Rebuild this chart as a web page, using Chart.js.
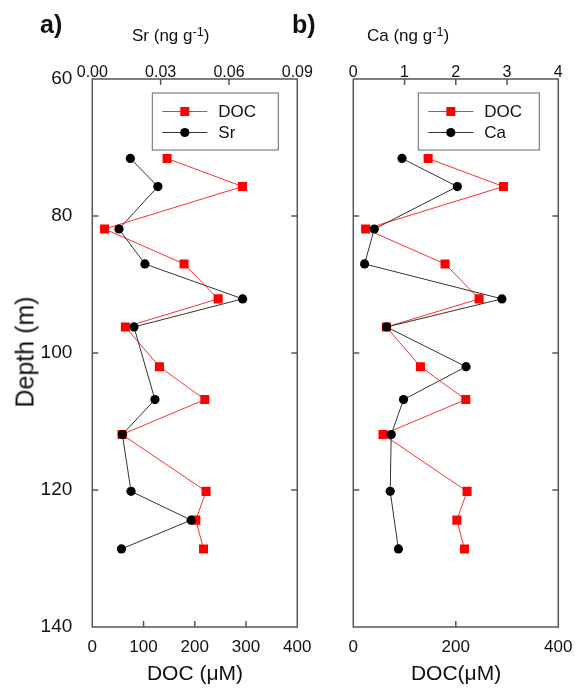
<!DOCTYPE html>
<html>
<head>
<meta charset="utf-8">
<script src="https://cdn.jsdelivr.net/npm/chart.js@4"></script>
<style>
  body { margin: 0; background: #fff; font-family: "Liberation Sans", Arial, sans-serif; color: #111; }
  #wrap { position: relative; width: 577px; height: 689px; overflow: hidden; }
  canvas { position: absolute; top: 0; }
  .lbl { position: absolute; white-space: nowrap; line-height: 1; }
  .lbl sup { font-size: 0.75em; position: relative; top: -0.1em; vertical-align: top; }
</style>
</head>
<body>
<div id="wrap">
  <canvas id="cA" width="320" height="689" style="left:0"></canvas>
  <canvas id="cB" width="257" height="689" style="left:320px"></canvas>
  <div class="lbl" style="left:40px;top:12px;font-size:25px;font-weight:bold">a)</div>
  <div class="lbl" style="left:292px;top:12px;font-size:25px;font-weight:bold">b)</div>
  <div class="lbl" style="left:132px;top:27px;font-size:17px">Sr (ng g<sup>-1</sup>)</div>
  <div class="lbl" style="left:367px;top:27px;font-size:17px">Ca (ng g<sup>-1</sup>)</div>
  <div class="lbl" style="left:25px;top:352px;font-size:25px;transform:translate(-50%,-50%) rotate(-90deg)">Depth (m)</div>
  <div class="lbl" style="left:195px;top:662px;font-size:21px;transform:translateX(-50%)">DOC (μM)</div>
  <div class="lbl" style="left:456px;top:662px;font-size:21px;transform:translateX(-50%)">DOC(μM)</div>
</div>
<script>
// depth (m) of each sample, shared by both panels
const depths = [71.6, 75.7, 81.9, 87, 92.1, 96.2, 102, 106.8, 111.9, 120.2, 124.4, 128.6];
const doc    = [146, 293, 24, 179, 245.5, 64.6, 131, 219.5, 58, 222, 202, 217];
const sr     = [0.0167, 0.0288, 0.0117, 0.0231, 0.066, 0.0183, null, 0.0275, 0.0132, 0.017, 0.0434, 0.0128];
const ca     = [0.95, 2.03, 0.41, 0.22, 2.9, 0.65, 2.2, 0.98, 0.74, 0.72, null, 0.88];

const docTicksA = 100, docTicksB = 200;
const srRange = [0, 0.09], caRange = [0, 4];

const pts = vals => depths.map((d, i) => ({ x: vals[i], y: d }));

const frameTicks = {
  id: 'frameTicks',
  afterDraw(chart) {
    const { ctx, chartArea: a, scales } = chart;
    const len = 6;
    ctx.save();
    ctx.strokeStyle = '#555';
    ctx.lineWidth = 1.5;
    ctx.strokeRect(a.left, a.top, a.right - a.left, a.bottom - a.top);
    ctx.beginPath();
    const inner = s => s.ticks.map(t => t.value).filter(v => v > s.min && v < s.max);
    inner(scales.x).forEach(v => { const p = scales.x.getPixelForValue(v); ctx.moveTo(p, a.bottom); ctx.lineTo(p, a.bottom - len); });
    inner(scales.x2).forEach(v => { const p = scales.x2.getPixelForValue(v); ctx.moveTo(p, a.top); ctx.lineTo(p, a.top + len); });
    inner(scales.y).forEach(v => {
      const p = scales.y.getPixelForValue(v);
      ctx.moveTo(a.left, p); ctx.lineTo(a.left + len, p);
      ctx.moveTo(a.right, p); ctx.lineTo(a.right - len, p);
    });
    ctx.stroke();
    ctx.restore();
  }
};

const boxLegend = {
  id: 'boxLegend',
  afterDraw(chart, args, o) {
    const { ctx, chartArea: a } = chart;
    const l = a.right - o.right - o.w, t = a.top + o.top;
    ctx.save();
    ctx.fillStyle = '#fff';
    ctx.fillRect(l, t, o.w, o.h);
    ctx.strokeStyle = '#666';
    ctx.lineWidth = 1;
    ctx.strokeRect(l, t, o.w, o.h);
    chart.data.datasets.forEach((ds, i) => {
      const y = t + 18.5 + i * 21;
      ctx.strokeStyle = ds.borderColor;
      ctx.lineWidth = 1;
      ctx.beginPath(); ctx.moveTo(l + 10, y); ctx.lineTo(l + 55, y); ctx.stroke();
      ctx.fillStyle = ds.pointBackgroundColor;
      if (ds.pointStyle === 'rect') ctx.fillRect(l + 28, y - 4.5, 9, 9);
      else { ctx.beginPath(); ctx.arc(l + 32.5, y, 4.6, 0, Math.PI * 2); ctx.fill(); }
      ctx.fillStyle = '#111';
      ctx.font = '17px "Liberation Sans", Arial, sans-serif';
      ctx.textBaseline = 'middle';
      ctx.fillText(ds.label, l + 66, y + 1);
    });
    ctx.restore();
  }
};

function makePanel(id, cfg) {
  const fixW = w => s => { s.width = w; };
  const fixH = h => s => { s.height = h; };
  return new Chart(document.getElementById(id), {
    type: 'scatter',
    data: {
      datasets: [
        { label: 'DOC', data: pts(doc), xAxisID: 'x', order: 1, showLine: true,
          borderColor: '#ff3030', borderWidth: 1, pointStyle: 'rect', pointRadius: 6.4,
          pointBackgroundColor: '#ff0000', pointBorderWidth: 0, spanGaps: true },
        { label: cfg.name, data: pts(cfg.vals), xAxisID: 'x2', order: 0, showLine: true,
          borderColor: '#333', borderWidth: 1, pointStyle: 'circle', pointRadius: 4.6,
          pointBackgroundColor: '#000', pointBorderWidth: 0, spanGaps: true }
      ]
    },
    options: {
      responsive: false, animation: false, devicePixelRatio: 1,
      layout: { padding: { left: 0, right: cfg.padRight, top: 0, bottom: 0 } },
      plugins: { legend: { display: false }, tooltip: { enabled: false },
        boxLegend: { right: 19, top: 14, w: cfg.legW, h: 57 } },
      scales: {
        x: { type: 'linear', position: 'bottom', min: 0, max: 400,
          ticks: { stepSize: cfg.docStep, padding: 2, color: '#111', font: { size: 17, family: '"Liberation Sans", Arial' } },
          grid: { display: false }, border: { display: false }, afterFit: fixH(62) },
        x2: { type: 'linear', position: 'top', min: cfg.range[0], max: cfg.range[1],
          ticks: { stepSize: cfg.step, padding: -11, color: '#111', callback: cfg.fmt, font: { size: 16, family: '"Liberation Sans", Arial' } },
          grid: { display: false }, border: { display: false }, afterFit: fixH(79) },
        y: { type: 'linear', reverse: true, min: 60, max: 140,
          ticks: { stepSize: 20, padding: 12, display: cfg.showY, color: '#111', font: { size: 19, family: '"Liberation Sans", Arial' } },
          grid: { display: false }, border: { display: false }, afterFit: fixW(cfg.yW) }
      }
    },
    plugins: [frameTicks, boxLegend]
  });
}

makePanel('cA', { name: 'Sr', vals: sr, range: srRange, step: 0.03, fmt: v => v.toFixed(2),
  docStep: docTicksA, padRight: 22.7, yW: 92.3, showY: true, legW: 126 });
makePanel('cB', { name: 'Ca', vals: ca, range: caRange, step: 1, fmt: v => String(v),
  docStep: docTicksB, padRight: 18.7, yW: 33.3, showY: false, legW: 121 });
</script>
</body>
</html>
